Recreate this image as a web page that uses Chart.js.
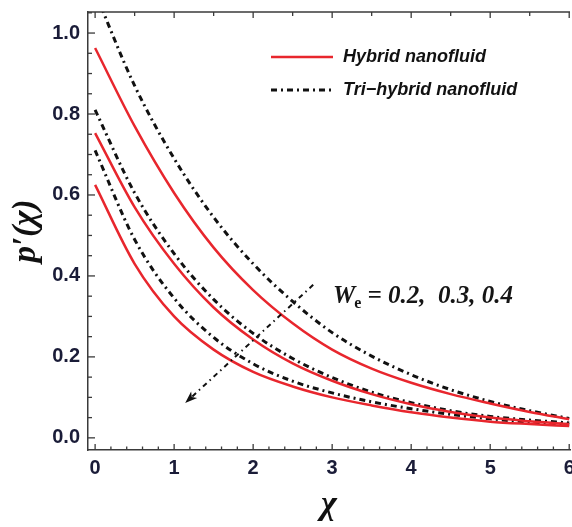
<!DOCTYPE html>
<html>
<head>
<meta charset="utf-8">
<script src="https://cdn.jsdelivr.net/npm/chart.js@4.4.1/dist/chart.umd.min.js"></script>
<style>
  html, body { margin: 0; padding: 0; background: #fff; }
</style>
</head>
<body>
<canvas id="chart" width="572" height="527"></canvas>
<script>
// values
var chi = [0, 0.5, 1, 1.5, 2, 2.5, 3, 3.5, 4, 4.5, 5, 5.5, 6];
var hybridWe02 = [0.963, 0.77, 0.605, 0.47, 0.365, 0.283, 0.218, 0.171, 0.136, 0.108, 0.085, 0.064, 0.046];
var hybridWe03 = [0.753, 0.57, 0.43, 0.322, 0.243, 0.184, 0.141, 0.108, 0.083, 0.064, 0.05, 0.041, 0.034];
var hybridWe04 = [0.625, 0.43, 0.3, 0.218, 0.163, 0.127, 0.1, 0.08, 0.063, 0.05, 0.04, 0.034, 0.029];
var triWe02 = [1.1, 0.87, 0.69, 0.545, 0.43, 0.337, 0.26, 0.202, 0.156, 0.119, 0.09, 0.067, 0.048];
var triWe03 = [0.81, 0.605, 0.455, 0.342, 0.258, 0.196, 0.149, 0.113, 0.087, 0.067, 0.053, 0.044, 0.037];
var triWe04 = [0.71, 0.49, 0.345, 0.248, 0.183, 0.14, 0.111, 0.089, 0.072, 0.058, 0.047, 0.039, 0.033];
var xTicks = [0, 1, 2, 3, 4, 5, 6];
var yTicks = [0, 0.2, 0.4, 0.6, 0.8, 1.0];

var RED = '#e8262d';
var BLACK = '#111111';
var DASHDOT = [6, 4, 2, 4];
var AXIS = '#3a3a3a';
var LABEL = '#1a1c38';

// arrow of the W_e annotation, in data units
var arrowFrom = { x: 2.76, y: 0.378 };
var arrowTo = { x: 1.14, y: 0.086 };

function pts(ys) {
    return chi.map(function(x, i) { return { x: x, y: ys[i] }; });
}

function redSet(ys) {
    return { data: pts(ys), borderColor: RED, borderWidth: 2.5, pointRadius: 0, cubicInterpolationMode: 'monotone', fill: false };
}
function blackSet(ys) {
    return { data: pts(ys), borderColor: BLACK, borderWidth: 3, borderDash: DASHDOT, pointRadius: 0, cubicInterpolationMode: 'monotone', fill: false };
}

var decorations = {
    id: 'decorations',
    afterDraw: function(chart) {
        var ctx = chart.ctx;
        var a = chart.chartArea;
        var xs = chart.scales.x, ys = chart.scales.y;
        var v;
        ctx.save();
        ctx.strokeStyle = AXIS;
        ctx.lineWidth = 1.5;

        // top frame line
        ctx.beginPath();
        ctx.moveTo(a.left, a.top);
        ctx.lineTo(a.right, a.top);
        ctx.stroke();

        // inward ticks on bottom axis
        ctx.lineWidth = 1.3;
        for (v = 0; v <= 6.001; v += 0.2) {
            var px = xs.getPixelForValue(v);
            var major = Math.abs(v - Math.round(v)) < 0.01;
            ctx.beginPath();
            ctx.moveTo(px, a.bottom);
            ctx.lineTo(px, a.bottom - (major ? 6 : 3.5));
            ctx.stroke();
        }
        // ticks on top frame
        for (v = 0; v <= 6.001; v += 0.5) {
            var tx = xs.getPixelForValue(v);
            ctx.beginPath();
            ctx.moveTo(tx, a.top);
            ctx.lineTo(tx, a.top + (Math.abs(v - Math.round(v)) < 0.01 ? 6 : 4));
            ctx.stroke();
        }
        // inward ticks on left axis
        for (v = 0; v <= 1.0501; v += 0.05) {
            var py = ys.getPixelForValue(v);
            var majorY = Math.abs(v * 5 - Math.round(v * 5)) < 0.01;
            ctx.beginPath();
            ctx.moveTo(a.left, py);
            ctx.lineTo(a.left + (majorY ? 7 : 4), py);
            ctx.stroke();
        }

        // legend
        ctx.lineWidth = 2.5;
        ctx.strokeStyle = RED;
        ctx.beginPath();
        ctx.moveTo(271, 57);
        ctx.lineTo(333, 57);
        ctx.stroke();
        ctx.lineWidth = 3;
        ctx.strokeStyle = BLACK;
        ctx.setLineDash(DASHDOT);
        ctx.beginPath();
        ctx.moveTo(271, 90);
        ctx.lineTo(333, 90);
        ctx.stroke();
        ctx.setLineDash([]);
        ctx.fillStyle = '#111';
        ctx.font = 'italic bold 18px "Liberation Sans", Arial, sans-serif';
        ctx.textBaseline = 'middle';
        ctx.fillText('Hybrid nanofluid', 343, 57);
        ctx.fillText('Tri\u2212hybrid nanofluid', 343, 90);

        // arrow
        var x1 = xs.getPixelForValue(arrowFrom.x), y1 = ys.getPixelForValue(arrowFrom.y);
        var x2 = xs.getPixelForValue(arrowTo.x), y2 = ys.getPixelForValue(arrowTo.y);
        var ang = Math.atan2(y2 - y1, x2 - x1);
        ctx.strokeStyle = BLACK;
        ctx.lineWidth = 2;
        ctx.setLineDash([5, 4, 1.5, 4]);
        ctx.beginPath();
        ctx.moveTo(x1, y1);
        ctx.lineTo(x2 - 8 * Math.cos(ang), y2 - 8 * Math.sin(ang));
        ctx.stroke();
        ctx.setLineDash([]);
        ctx.fillStyle = BLACK;
        ctx.beginPath();
        ctx.moveTo(x2, y2);
        ctx.lineTo(x2 - 13 * Math.cos(ang - 0.35), y2 - 13 * Math.sin(ang - 0.35));
        ctx.lineTo(x2 - 9 * Math.cos(ang), y2 - 9 * Math.sin(ang));
        ctx.lineTo(x2 - 13 * Math.cos(ang + 0.35), y2 - 13 * Math.sin(ang + 0.35));
        ctx.closePath();
        ctx.fill();

        // annotation text
        ctx.textBaseline = 'alphabetic';
        ctx.fillStyle = '#151515';
        ctx.font = 'italic bold 25px "Liberation Serif", "Times New Roman", serif';
        ctx.fillText('W', 333, 303);
        var wW = ctx.measureText('W').width;
        ctx.font = 'bold 16px "Liberation Serif", "Times New Roman", serif';
        ctx.fillText('e', 333 + wW - 1, 308);
        var eW = ctx.measureText('e').width;
        ctx.font = 'italic bold 25px "Liberation Serif", "Times New Roman", serif';
        ctx.fillText(' = 0.2,  0.3, 0.4', 333 + wW + eW - 1, 303);
        ctx.restore();
    }
};

new Chart(document.getElementById('chart'), {
    type: 'line',
    data: {
        datasets: [
            redSet(hybridWe02), redSet(hybridWe03), redSet(hybridWe04),
            blackSet(triWe02), blackSet(triWe03), blackSet(triWe04)
        ]
    },
    plugins: [decorations],
    options: {
        responsive: false,
        animation: false,
        layout: { padding: { top: 12, right: 2, left: 0, bottom: 0 } },
        plugins: { legend: { display: false }, tooltip: { enabled: false } },
        scales: {
            x: {
                type: 'linear',
                min: -0.09,
                max: 6.01,
                afterBuildTicks: function(s) { s.ticks = xTicks.map(function(v) { return { value: v }; }); },
                afterFit: function(s) { s.height = 77; s.paddingLeft = 0; s.paddingRight = 0; },
                grid: { drawOnChartArea: false, drawTicks: false },
                border: { display: true, color: AXIS, width: 1.5 },
                ticks: {
                    padding: 6,
                    color: LABEL,
                    font: { family: '"Liberation Sans", Arial, sans-serif', size: 20, weight: 'bold' },
                    callback: function(v) { return String(v); }
                },
                title: {
                    display: true,
                    text: '\u03c7',
                    color: '#111',
                    padding: 1,
                    font: { family: '"Liberation Serif", "Times New Roman", serif', size: 34, style: 'italic', weight: 'bold' }
                }
            },
            y: {
                min: -0.03,
                max: 1.052,
                afterBuildTicks: function(s) { s.ticks = yTicks.map(function(v) { return { value: v }; }); },
                afterFit: function(s) { s.width = 88; s.paddingTop = 0; s.paddingBottom = 0; },
                grid: { drawOnChartArea: false, drawTicks: false },
                border: { display: true, color: AXIS, width: 1.5 },
                ticks: {
                    padding: 8,
                    color: LABEL,
                    font: { family: '"Liberation Sans", Arial, sans-serif', size: 20, weight: 'bold' },
                    callback: function(v) { return v.toFixed(1); }
                },
                title: {
                    display: true,
                    text: 'p\u2032(\u03c7)',
                    color: '#111',
                    padding: 7,
                    font: { family: '"Liberation Serif", "Times New Roman", serif', size: 33, style: 'italic', weight: 'bold' }
                }
            }
        }
    }
});
</script>
</body>
</html>
